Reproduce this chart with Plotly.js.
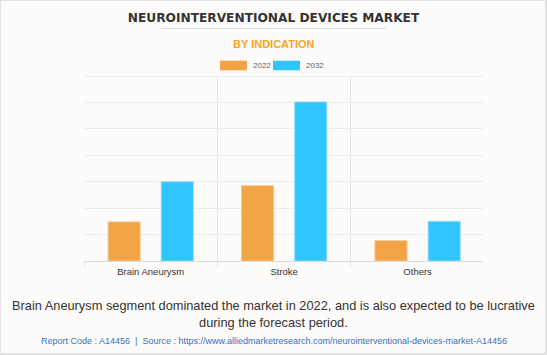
<!DOCTYPE html>
<html>
<head>
<meta charset="utf-8">
<script src="https://cdn.plot.ly/plotly-3.0.1.min.js"></script>
<style>
html,body{margin:0;padding:0;background:#fdfcfa;}
#wrap{position:relative;width:547px;height:355px;}
#wrap:after{content:'';position:absolute;left:0;top:0;right:0;bottom:0;border-style:solid;border-color:#e2e2e2;border-width:1px 2px 2px 1px;pointer-events:none;}
</style>
</head>
<body>
<div id="wrap"><div id="chart"></div></div>
<script>
const categories = ['Brain Aneurysm', 'Stroke', 'Others'];
const seriesNames = ['2022', '2032'];
const values2022 = [1.48, 2.85, 0.77];
const values2032 = [3.0, 6.02, 1.5];
const seriesColors = ['#f2a444', '#31c5fd'];
const seriesEdges = ['#f7c88e', '#8fdcfd'];

const chartTitle = 'NEUROINTERVENTIONAL DEVICES MARKET';
const chartSubtitle = 'BY INDICATION';
const caption = 'Brain Aneurysm segment dominated the market in 2022, and is also expected to be lucrative<br>during the forecast period.';
const sourceText = 'Report Code : A14456  |  Source : https://www.alliedmarketresearch.com/neurointerventional-devices-market-A14456';

const W = 547, H = 355, ML = 84, MR = 64, MT = 75, MB = 94;
const PW = W - ML - MR, PH = H - MT - MB;
const px = v => (v - ML) / PW;
const py = v => (H - MB - v) / PH;

const traces = [values2022, values2032].map((vals, i) => ({
  type: 'bar',
  name: seriesNames[i],
  x: categories,
  y: vals,
  marker: {color: seriesColors[i], line: {color: seriesEdges[i], width: 1}},
  hoverinfo: 'x+y+name'
}));

const swatches = [[220, 247], [273, 300]];
const shapes = [
  {type: 'line', xref: 'paper', yref: 'paper', x0: px(161), x1: px(386), y0: py(28.5), y1: py(28.5), line: {color: '#dddddd', width: 1}}
];
const annotations = [
  {text: chartSubtitle, xref: 'paper', yref: 'paper', x: px(273.5), y: py(44), showarrow: false, xanchor: 'center', yanchor: 'middle',
   font: {family: 'Liberation Sans, Arial, sans-serif', size: 11, color: '#f5a52c', weight: 'bold'}},
  {text: caption, xref: 'paper', yref: 'paper', x: px(273.5), y: py(313.5), showarrow: false, xanchor: 'center', yanchor: 'middle',
   font: {family: 'Liberation Sans, Arial, sans-serif', size: 12.8, color: '#333333'}},
  {text: sourceText, xref: 'paper', yref: 'paper', x: px(273.5), y: py(341), showarrow: false, xanchor: 'center', yanchor: 'middle',
   font: {family: 'Liberation Sans, Arial, sans-serif', size: 9, color: '#3a6fc0'}}
];
seriesNames.forEach((n, i) => {
  shapes.push({type: 'rect', xref: 'paper', yref: 'paper', x0: px(swatches[i][0]), x1: px(swatches[i][1]), y0: py(70.3), y1: py(60.7),
    fillcolor: seriesColors[i], line: {width: 0}});
  annotations.push({text: n, xref: 'paper', yref: 'paper', x: px(swatches[i][1] + 3.5), y: py(65.3), showarrow: false, xanchor: 'left', yanchor: 'middle',
    font: {family: 'Liberation Sans, Arial, sans-serif', size: 8, color: '#666666'}});
});

const layout = {
  width: W, height: H,
  margin: {l: ML, r: MR, t: MT, b: MB, pad: 0},
  paper_bgcolor: '#fdfcfa',
  plot_bgcolor: '#fdfcfa',
  showlegend: false,
  barmode: 'group',
  bargap: 0.203,
  bargroupgap: 0.396,
  title: {text: chartTitle, x: 0.5, xref: 'container', xanchor: 'center', y: 1 - 17.5 / H, yref: 'container', yanchor: 'middle',
    font: {family: 'DejaVu Sans, sans-serif', size: 12.2, color: '#333333', weight: 'bold'}},
  xaxis: {
    type: 'category',
    range: [-0.5, 2.49],
    tickson: 'boundaries',
    showgrid: true, gridcolor: '#e6e6e6', gridwidth: 1,
    ticks: 'outside', ticklen: 6, tickcolor: '#e6e6e6',
    showline: true, linecolor: '#dadada', linewidth: 1,
    tickfont: {family: 'Liberation Sans, Arial, sans-serif', size: 9.5, color: '#333333'},
    ticklabelstandoff: 2,
    fixedrange: true
  },
  yaxis: {
    range: [0, 7.04], dtick: 1, tick0: 0,
    showticklabels: false,
    showgrid: true, gridcolor: '#ececec', gridwidth: 1,
    zeroline: false, showline: false, ticks: '',
    fixedrange: true
  },
  shapes: shapes,
  annotations: annotations
};

Plotly.newPlot('chart', traces, layout, {displayModeBar: false, staticPlot: true});
</script>
</body>
</html>
